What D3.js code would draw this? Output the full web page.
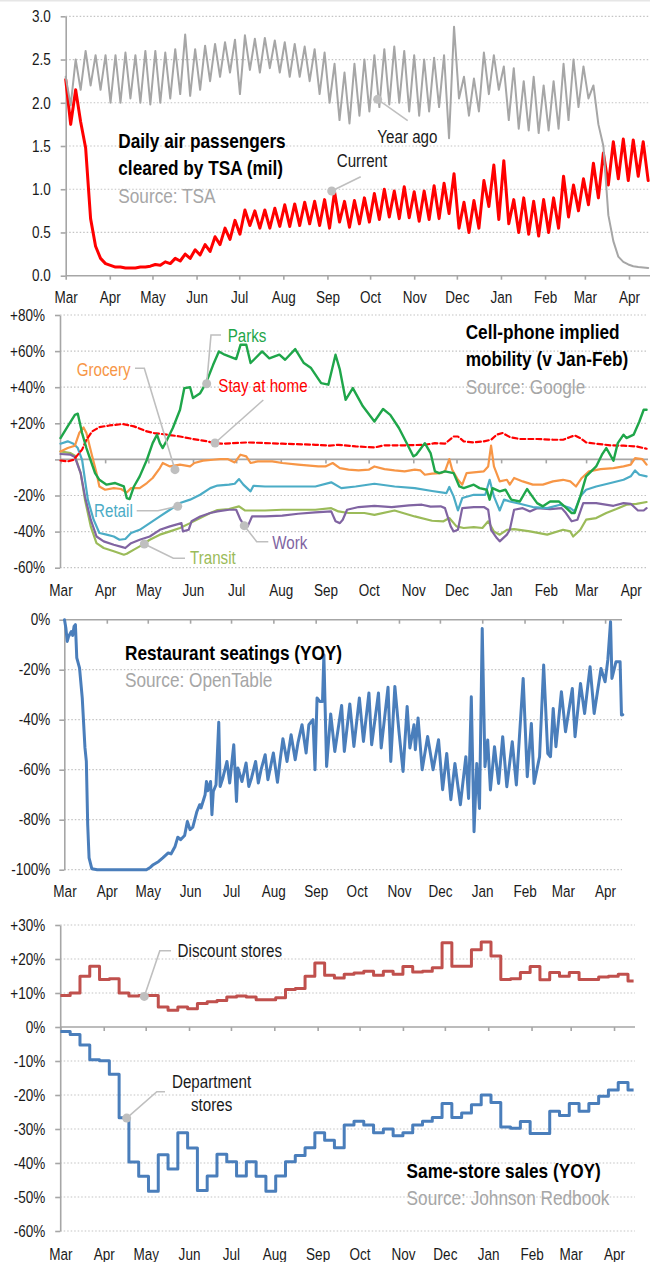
<!DOCTYPE html>
<html><head><meta charset="utf-8">
<script src="https://cdn.jsdelivr.net/npm/d3@7"></script>
<style>body{margin:0;background:#fff}svg{display:block}</style>
</head><body>
<svg id="c" width="650" height="1262"></svg>
<script>
// ---------------- DATA ----------------
const START = Date.UTC(2020, 2, 1);          // Mar 1, 2020
const monthLabels = ["Mar","Apr","May","Jun","Jul","Aug","Sep","Oct","Nov","Dec","Jan","Feb","Mar","Apr"];

// TSA throughput (millions), sampled every 3.5 days from Mar 1 2020
const tsaStep = 3.5;
const tsaCurrent = [2.27,1.75,2.15,1.78,1.48,0.66,0.34,0.20,0.14,0.12,
 0.10,0.10,0.09,0.09,0.09,0.10,0.10,0.11,0.13,0.12,
 0.16,0.14,0.20,0.17,0.25,0.20,0.30,0.24,0.36,0.28,
 0.45,0.36,0.55,0.42,0.64,0.48,0.76,0.58,0.75,0.55,
 0.76,0.55,0.78,0.57,0.82,0.57,0.83,0.58,0.85,0.60,
 0.86,0.58,0.88,0.55,0.97,0.62,0.86,0.56,0.87,0.60,
 0.90,0.62,0.95,0.65,1.00,0.68,0.98,0.66,1.03,0.67,
 0.97,0.63,0.98,0.65,1.04,0.66,1.07,0.72,1.18,0.55,
 0.85,0.50,0.87,0.55,1.10,0.80,1.28,0.65,1.33,0.60,
 0.88,0.50,0.90,0.48,0.86,0.46,0.88,0.50,0.90,0.55,
 1.15,0.68,1.05,0.75,1.12,0.82,1.30,0.90,1.42,1.05,
 1.55,1.12,1.58,1.10,1.57,1.15,1.55,1.10];
const tsaYearAgo = [2.30,1.97,2.50,2.15,2.60,2.20,2.55,2.15,2.55,2.00,
 2.55,2.00,2.58,2.05,2.55,2.00,2.60,1.98,2.60,2.00,
 2.58,2.05,2.62,2.10,2.79,2.08,2.62,2.15,2.66,2.25,
 2.68,2.30,2.70,2.35,2.73,2.10,2.78,2.38,2.74,2.35,
 2.75,2.40,2.72,2.35,2.70,2.30,2.68,2.30,2.65,2.25,
 2.62,2.10,2.58,2.00,2.45,1.80,2.35,1.76,2.45,1.85,
 2.50,1.90,2.55,1.95,2.62,1.98,2.65,2.00,2.60,1.90,
 2.55,1.85,2.50,1.90,2.52,1.95,2.55,1.59,2.88,2.05,
 2.30,1.85,2.28,1.90,2.58,2.10,2.55,2.15,2.42,1.80,
 2.40,1.70,2.25,1.68,2.30,1.65,2.20,1.68,2.25,1.70,
 2.45,1.80,2.50,1.95,2.42,2.05,2.20,1.75,1.50,0.70,
 0.40,0.22,0.16,0.13,0.11,0.10,0.095,0.09];

// Google mobility (% vs Jan-Feb), [days since Mar 1 2020, value]
const parks = [[0,11.8],[5,18.3],[10,24.7],[12,25.3],[15,14.6],[18,6.3],[24,-7.6],[27,-11.3],[32,-14],[38,-13.1],[44,-15],[46,-21.4],[48,-22],[51,-15],[55,-9.4],[60,-0.2],[64,9],[67,13.7],[69,9],[71,6.3],[74,10.9],[78,17.4],[83,27.5],[86,39.5],[90,40],[92,34],[97,36.7],[101,42.3],[106,52.4],[110,59.8],[114,58],[122,55.6],[125,63.5],[129,63.5],[132,53.4],[140,59.8],[145,56],[152,58],[156,55.2],[163,61.1],[169,53.4],[174,50.6],[181,42.3],[186,41.4],[191,58],[194,49.7],[198,33],[203,39.5],[210,29.4],[218,21],[224,27.9],[229,24.7],[235,17.4],[241,8.1],[245,1.7],[247,2.6],[253,9],[257,3.5],[260,-6.6],[263,-7.6],[267,-6.6],[273,-7.6],[277,-15],[280,-15.9],[287,-14],[291,-15.9],[296,-16.8],[298,-22.3],[300,-15.9],[305,-17.7],[309,-16.8],[313,-22.3],[319,-23.3],[324,-16.4],[326,-18.7],[331,-24.2],[335,-26],[340,-23.3],[346,-23.3],[350,-26],[355,-29.7],[357,-29.7],[361,-20.5],[365,-9.4],[372,-3.9],[376,2.6],[379,6.3],[384,-0.7],[387,9],[391,13.7],[393,11.8],[398,13.7],[402,21],[405,27.5],[407,27.5]];
const grocery = [[0,4.4],[5,6.3],[10,7.6],[13,14.6],[16,17.7],[18,14.6],[22,1.7],[25,-7.6],[27,-15],[31,-16.8],[37,-15.9],[42,-16.4],[46,-18.3],[49,-15.9],[55,-15.9],[60,-13.1],[64,-10.3],[69,-4.8],[71,-2],[76,-3.9],[83,-2.9],[90,-3.9],[93,-2],[99,-0.7],[106,-0.2],[111,0.2],[116,0.2],[121,-1.7],[125,2.6],[129,1.7],[132,-2],[137,-1.1],[147,-1.1],[154,-2],[165,-2.9],[179,-3.9],[184,-3.9],[189,-2],[194,-4.8],[200,-5.7],[207,-6.1],[214,-5.7],[218,-3.9],[225,-5.4],[232,-6.1],[239,-6.6],[246,-5.7],[250,-6.1],[253,-8.5],[258,-7.9],[264,-7.6],[267,-6.6],[270,0.2],[272,-5.7],[276,-11.3],[279,-14],[282,-7.6],[287,-7.2],[294,-6.6],[297,-3.9],[299,7.6],[301,-3.9],[305,-12.2],[310,-11.3],[312,-14],[315,-10.3],[321,-12.2],[328,-14],[335,-14],[342,-12.2],[349,-11.3],[354,-12.2],[358,-15],[362,-10.3],[367,-6.6],[375,-5.4],[384,-4.8],[391,-3.9],[396,-2.9],[399,0.7],[404,0.2],[407,-2.9]];
const stayHome = [[0,-0.6],[5,-1.1],[9,-0.2],[15,5.4],[18,10.9],[22,15.5],[27,17.9],[34,18.8],[43,19.6],[51,18.3],[60,15.5],[65,14.6],[74,13.7],[83,12.7],[92,11.3],[102,10],[107,9],[112,8.7],[130,9.4],[154,8.7],[177,8.1],[187,7.6],[193,8.1],[205,7.2],[218,6.6],[225,7.8],[239,7.8],[253,8.1],[260,9],[267,8.7],[273,12.7],[276,12.7],[280,10],[287,9.4],[294,10],[299,10.9],[303,13.7],[307,14.6],[312,12.4],[319,11.3],[331,11.3],[342,10.9],[349,10.9],[354,12.4],[357,13.3],[361,11.8],[365,9.4],[372,8.7],[382,7.8],[391,7.6],[400,7.2],[407,5.9]];
const retail = [[0,8.7],[5,10],[9,8.7],[12,6.3],[15,-0.2],[17,-11.3],[19,-22.3],[23,-33.4],[27,-40.8],[32,-41.7],[37,-42.7],[41,-44.5],[45,-44.1],[49,-40.8],[55,-39],[62,-35.3],[69,-31.6],[76,-27.9],[83,-24.2],[90,-22.3],[97,-19.6],[104,-15.9],[109,-14.5],[117,-14],[121,-13.5],[124,-10.9],[127,-14],[132,-17.7],[134,-14.6],[142,-15],[154,-15],[165,-15],[177,-15],[188,-12.7],[195,-15.9],[205,-15],[218,-13.5],[232,-15],[246,-15.9],[258,-17.5],[268,-18.7],[270,-15.3],[273,-20.5],[276,-28.3],[279,-21.4],[287,-19.6],[295,-19.6],[298,-11.3],[301,-20.5],[305,-28.3],[308,-22.3],[312,-23.3],[319,-24.6],[328,-26.4],[338,-27],[347,-25.1],[354,-27],[357,-28.8],[361,-20.5],[365,-16.8],[372,-15],[382,-13.1],[391,-11.3],[396,-9.4],[399,-6.1],[402,-8.5],[407,-9.4]];
const transit = [[0,4.4],[7,3.5],[10,2],[14,-7.6],[17,-22.3],[21,-37.1],[25,-46.4],[30,-49.1],[37,-50.9],[44,-52.8],[46,-52.3],[51,-50],[55,-48.2],[62,-44.5],[69,-41.7],[76,-39.9],[83,-38],[90,-35.3],[97,-32.5],[104,-29.7],[109,-28.1],[117,-27.5],[124,-26],[128,-28.3],[142,-28.3],[154,-27.9],[165,-27.9],[177,-27.9],[188,-27],[193,-28.8],[200,-29.7],[211,-29.7],[218,-30.7],[232,-28.3],[246,-31.6],[258,-34],[266,-34.3],[270,-32.5],[275,-37.1],[280,-38],[287,-37.5],[293,-38],[297,-34.3],[301,-39.9],[305,-41.7],[310,-39],[315,-38.6],[326,-39.9],[338,-41.7],[349,-39],[354,-39.9],[356,-42.7],[361,-39],[365,-33.4],[372,-32.5],[379,-29.7],[386,-27.5],[393,-25.1],[400,-24.6],[407,-23.6]];
const work = [[0,3],[7,2.6],[10,1.3],[14,-7.6],[17,-20.5],[21,-33.4],[25,-42.7],[30,-45.4],[37,-47.3],[43,-48.6],[45,-49.1],[49,-46.4],[55,-44.5],[62,-42.7],[69,-39],[76,-37.1],[84,-35.3],[85,-39.9],[89,-39],[91,-34.3],[97,-31.6],[104,-29.7],[109,-28.8],[117,-27.9],[122,-27.9],[125,-33.4],[128,-37.1],[130,-37.1],[133,-31.6],[142,-31.6],[154,-31.2],[165,-30.1],[177,-29.4],[188,-28.8],[191,-34.3],[194,-35.3],[196,-33.4],[199,-27.9],[207,-26.4],[218,-25.7],[230,-26.4],[242,-25.5],[251,-25.1],[257,-26.2],[264,-26],[267,-27],[271,-37.1],[273,-39.9],[276,-39],[279,-27],[287,-26.4],[294,-26.4],[297,-27.9],[299,-39],[303,-43.6],[305,-45.4],[310,-41.7],[312,-39],[315,-27.9],[321,-27],[326,-28.8],[331,-27],[340,-27.5],[348,-27],[351,-29.7],[355,-34.3],[359,-33.4],[363,-24.2],[372,-24.2],[384,-25.7],[391,-24.2],[396,-24.6],[401,-28.3],[405,-28.3],[407,-27]];

// OpenTable seated diners YOY (%), [days since Mar 1 2020, value]
const seatings = [[0,0],[1,-3.3],[2,-8.7],[3,-6.7],[5,-4.7],[6,-6.3],[7,-2.7],[8,-2],[9,-15.3],[11,-19.3],[13,-31.3],[15,-51.3],[16,-56.7],[17,-82],[18,-95.3],[20,-99.6],[24,-100],[60,-100],[63,-99],[65,-98],[69,-96.7],[72,-95.3],[76,-93.3],[78,-93.7],[81,-90.7],[83,-87],[85,-88],[88,-86.3],[90,-80.7],[92,-84],[94,-83],[97,-76.7],[99,-74],[100,-75.3],[103,-70],[104,-64.7],[105,-68.4],[107,-64.7],[108,-78],[109,-68.7],[111,-66],[113,-41],[114,-66.7],[116,-63.3],[119,-56.7],[121,-65.3],[124,-50],[126,-72.7],[127,-59.3],[130,-64.7],[133,-57.3],[135,-66.7],[137,-63.3],[140,-56.7],[142,-65.3],[144,-60],[147,-54],[149,-64],[153,-53.3],[156,-65],[158,-56],[160,-47.6],[163,-56.7],[166,-46],[169,-56],[171,-49.3],[174,-42],[177,-53.3],[179,-42],[182,-40],[183.5,-60],[185,-31.3],[187,-32.7],[189,-32.7],[190,-14],[191,-36.7],[192,-58.7],[195,-37.7],[198,-52.7],[203,-34.3],[205,-52.7],[209,-33.7],[212,-50.7],[216,-31.3],[219,-48.7],[223,-29.3],[225,-50],[230,-29.3],[232,-51.3],[237,-27],[239,-56.7],[242,-26.7],[245,-44.7],[248,-60.7],[251,-34.7],[253,-51.3],[256,-42],[257,-52],[259,-39.3],[262,-60],[266,-46.7],[270,-60],[274,-48],[277,-68],[280,-53.5],[283,-72],[286,-57.5],[290,-74],[294,-54.8],[296,-71.5],[298,-30.8],[300,-84.8],[302,-57.5],[304,-75.5],[306,-3.5],[308,-58.8],[310,-48.1],[312,-68.1],[315,-50.8],[318,-65.5],[321,-46.8],[324,-66.8],[328,-48.8],[331,-66.1],[336,-23.5],[339,-62.8],[342,-41.5],[344,-65.5],[348,-54.8],[351,-18.1],[354,-53.5],[356,-54.8],[358,-35.5],[360,-50.8],[364,-28.8],[367,-44.8],[372,-27.5],[374,-46.8],[378,-25.5],[381,-37.5],[385,-18.8],[388,-37.5],[393,-19.5],[396,-24.8],[398,-16.1],[400,-0.8],[401,-23.5],[404,-16.8],[407,-16.8],[408,-38.1],[409,-38]];

// Johnson Redbook same-store sales YOY (%), weekly from Mar 1 2020
const weekStep = 7;
const discountStores = [9.3,10.0,14.9,17.9,14.0,14.2,10.0,9.1,9.3,9.3,5.9,4.9,5.9,5.4,6.9,7.4,7.8,8.8,9.1,8.8,8.0,8.0,8.6,11.0,11.3,14.9,18.8,15.2,14.4,15.5,15.9,16.4,15.2,16.4,15.5,17.8,16.2,16.4,17.4,24.8,17.9,17.9,22.7,25.0,20.9,14.0,14.2,16.0,17.8,13.9,16.0,14.9,16.0,14.0,14.0,14.7,14.9,15.5,13.5];
const departmentStores = [-1.3,-2.2,-5.3,-9.6,-9.9,-13.9,-26.7,-39.7,-43.9,-48.3,-37.6,-41.8,-31.1,-35.6,-48.1,-43.8,-37.4,-39.6,-43.8,-39.6,-43.9,-48.3,-43.8,-39.6,-37.8,-35.5,-31.1,-33.3,-35.5,-28.8,-27.7,-28.8,-31.1,-30.0,-32.0,-31.1,-28.8,-27.7,-26.6,-22.5,-26.6,-25.3,-22.9,-20.0,-22.2,-29.4,-29.8,-27.8,-31.3,-31.3,-24.8,-26.0,-22.5,-24.8,-22.5,-20.4,-18.5,-16.3,-18.5];
const END_DAY = 410;

// ---------------- DRAWING ----------------
const DAY = 864e5;
const dd = d => new Date(START + d * DAY);
const monthDates = d3.utcMonth.range(dd(0), dd(END_DAY));
const FONT = '"Liberation Sans", Arial, sans-serif';
const NARROW = 0.82;
const AX = "#a6a6a6", GRID = "#c4c4c4", DOT = "#bfbfbf";
const svg = d3.select("#c").attr("font-family", FONT);

svg.append("rect").attr("x",0).attr("y",0).attr("width",650).attr("height",1.5).attr("fill","#e6e6e6");

function panel(cfg) {
  const g = svg.append("g");
  const x = d3.scaleUtc().domain([dd(0), dd(END_DAY)]).range(cfg.xr);
  const y = d3.scaleLinear().domain(cfg.yd).range(cfg.yr);
  g.append("g").selectAll("line").data(cfg.yTicks.filter(v => v !== cfg.base)).join("line")
    .attr("x1", cfg.axisX).attr("x2", cfg.gridEnd).attr("y1", d => y(d)).attr("y2", d => y(d))
    .attr("stroke", GRID).attr("stroke-width", 1.2).attr("stroke-dasharray", "1.5,2");
  const gy = g.append("g").attr("transform", `translate(${cfg.axisX},0)`)
    .call(d3.axisLeft(y).tickValues(cfg.yTicks).tickSize(5).tickSizeOuter(0).tickPadding(cfg.pad)
      .tickFormat((d, i) => cfg.yLabels[i]));
  gy.attr("font-family", FONT).attr("font-size", 16.5);
  gy.select(".domain").attr("stroke", AX).attr("stroke-width", 1.6);
  gy.selectAll(".tick line").attr("stroke", AX).attr("stroke-width", 1.6);
  gy.selectAll(".tick text").attr("fill", "#1a1a1a");
  g.append("line").attr("x1", cfg.axisX).attr("x2", cfg.gridEnd)
    .attr("y1", y(cfg.base)).attr("y2", y(cfg.base)).attr("stroke", AX).attr("stroke-width", 1.6);
  const gx = g.append("g").attr("transform", `translate(0,${y(cfg.base)})`)
    .call(d3.axisBottom(x).tickValues(monthDates).tickSize(4).tickSizeOuter(0).tickFormat(""));
  gx.select(".domain").remove();
  gx.selectAll(".tick line").attr("stroke", AX).attr("stroke-width", 1.6);
  const gl = g.append("g").attr("transform", `translate(0,${cfg.labelY})`)
    .call(d3.axisBottom(x).tickValues(monthDates).tickSize(0).tickPadding(0)
      .tickFormat((d, i) => monthLabels[i]));
  gl.attr("font-family", FONT).attr("font-size", 16.5);
  gl.select(".domain").remove();
  gl.selectAll("text").attr("y", 0).attr("dy", 0).attr("fill", "#1a1a1a");
  return {g, x, y};
}

function drawLine(p, data, color, width, dash) {
  const path = p.g.append("path").datum(data)
    .attr("fill", "none").attr("stroke", color).attr("stroke-width", width)
    .attr("stroke-linejoin", "round").attr("stroke-linecap", "round")
    .attr("d", d3.line().x(d => p.x(d.date)).y(d => p.y(d.v)));
  if (dash) path.attr("stroke-dasharray", dash);
}
const pairs = arr => arr.map(([d, v]) => ({date: dd(d), v}));

function note(p, pts, anchor, label, color, tx, ty, size, anchorMode) {
  const [ad, av] = anchor;
  const all = pts.concat([[p.x(dd(ad)), p.y(av)]]);
  p.g.append("path").attr("d", d3.line()(all)).attr("fill", "none")
    .attr("stroke", DOT).attr("stroke-width", 1.6);
  p.g.append("circle").attr("cx", p.x(dd(ad))).attr("cy", p.y(av)).attr("r", 4.5).attr("fill", DOT);
  const lines = Array.isArray(label) ? label : [label];
  lines.forEach((t, i) => {
    p.g.append("text").attr("x", tx).attr("y", ty + i * 23).text(t)
      .attr("font-size", size || 18.5).attr("fill", color).attr("text-anchor", anchorMode || "start");
  });
}
function title(p, lines, x, y0) {
  lines.forEach((t, i) => {
    p.g.append("text").attr("x", x).attr("y", y0 + i * 27.3).text(t)
      .attr("font-size", 21).attr("font-weight", i < lines.length - 1 ? "bold" : "normal")
      .attr("fill", i < lines.length - 1 ? "#000" : "#a6a6a6");
  });
}

// Panel 1: TSA
const p1 = panel({xr: [65.7, 648.9], yd: [0, 3], yr: [275.7, 16.3], axisX: 65.7, gridEnd: 650,
  yTicks: [0, 0.5, 1, 1.5, 2, 2.5, 3], yLabels: ["0.0","0.5","1.0","1.5","2.0","2.5","3.0"],
  base: 0, pad: 10, labelY: 303});
drawLine(p1, tsaCurrent.map((v, i) => ({date: dd(i * tsaStep), v})), "#ff0000", 3);
drawLine(p1, tsaYearAgo.map((v, i) => ({date: dd(i * tsaStep), v})), "#a6a6a6", 2);
title(p1, ["Daily air passengers", "cleared by TSA (mil)", "Source: TSA"], 118.3, 148);
note(p1, [[407.7, 120.7]], [219.3, 2.04], "Year ago", "#1a1a1a", 377.3, 143, 18.5);
note(p1, [[360.7, 176.7]], [187, 0.98], "Current", "#1a1a1a", 336.7, 166.7, 18.5);

// Panel 2: Google mobility
const p2 = panel({xr: [60.5, 650.9], yd: [-60, 80], yr: [567.7, 315], axisX: 60, gridEnd: 648,
  yTicks: [-60, -40, -20, 0, 20, 40, 60, 80], yLabels: ["-60%","-40%","-20%","","+20%","+40%","+60%","+80%"],
  base: 0, pad: 10, labelY: 596});
drawLine(p2, pairs(transit), "#9bbb59", 2.2);
drawLine(p2, pairs(work), "#8064a2", 2.2);
drawLine(p2, pairs(retail), "#4bacc6", 2.2);
drawLine(p2, pairs(grocery), "#f79646", 2.2);
drawLine(p2, pairs(stayHome), "#ff0000", 2.2, "5,3");
drawLine(p2, pairs(parks), "#1fa64a", 2.4);
title(p2, ["Cell-phone implied", "mobility (v Jan-Feb)", "Source: Google"], 465.7, 339);
note(p2, [[221, 335], [211, 335]], [101.5, 41.9], "Parks", "#1fa64a", 227.7, 341.7);
note(p2, [[263.3, 400]], [107.3, 9.1], "Stay at home", "#ff0000", 218.3, 391.7);
note(p2, [[135, 368.3], [144.3, 368.3]], [79.5, -5.7], "Grocery", "#f79646", 76.7, 376);
note(p2, [[136.7, 510.7], [158, 510.7]], [81.4, -26], "Retail", "#4bacc6", 94, 516.7);
note(p2, [[185, 558.3], [173.3, 558.3]], [58.2, -46.9], "Transit", "#9bbb59", 190, 564.5);
note(p2, [[268.3, 541.7], [256.7, 541.7]], [127.6, -36.7], "Work", "#8064a2", 272.3, 549.3);

// Panel 3: OpenTable
const p3 = panel({xr: [64.5, 624.2], yd: [-100, 0], yr: [869.7, 619.7], axisX: 64.3, gridEnd: 622,
  yTicks: [-100, -80, -60, -40, -20, 0], yLabels: ["-100%","-80%","-60%","-40%","-20%","0%"],
  base: 0, pad: 9, labelY: 897});
drawLine(p3, pairs(seatings), "#4a7ebb", 3);
title(p3, ["Restaurant seatings (YOY)", "Source: OpenTable"], 125, 660);

// Panel 4: Redbook
const p4 = panel({xr: [60.4, 633.6], yd: [-60, 30], yr: [1231, 925], axisX: 60.2, gridEnd: 635,
  yTicks: [-60, -50, -40, -30, -20, -10, 0, 10, 20, 30],
  yLabels: ["-60%","-50%","-40%","-30%","-20%","-10%","0%","+10%","+20%","+30%"],
  base: 0, pad: 10, labelY: 1260});
const weekly = arr => {
  const pts = arr.map((v, k) => ({date: dd(k * weekStep), v}));
  pts.push({date: dd(END_DAY), v: arr[arr.length - 1]});
  return pts;
};
function drawStep(p, data, color) {
  p.g.append("path").datum(data).attr("fill", "none").attr("stroke", color).attr("stroke-width", 3)
    .attr("stroke-linejoin", "round")
    .attr("d", d3.line().curve(d3.curveStepAfter).x(d => p.x(d.date)).y(d => p.y(d.v)));
}
drawStep(p4, weekly(discountStores), "#c0504d");
drawStep(p4, weekly(departmentStores), "#4a7ebb");
title(p4, ["Same-store sales (YOY)", "Source: Johnson Redbook"], 406.6, 1178);
note(p4, [[171, 950.7], [159.8, 950.7]], [60, 9.0], "Discount stores", "#1a1a1a", 177.6, 957.3);
note(p4, [[165, 1091.7], [156.8, 1091.7]], [47.4, -26.8], ["Department", "stores"], "#1a1a1a", 211.6, 1087.7, 18.5, "middle");

// condensed look: squeeze every text horizontally about its own anchor x
svg.selectAll("text").each(function() {
  const t = d3.select(this);
  const x0 = +(t.attr("x") || 0);
  t.attr("transform", `translate(${x0},0) scale(${NARROW},1) translate(${-x0},0)`);
});
</script>
</body></html>
